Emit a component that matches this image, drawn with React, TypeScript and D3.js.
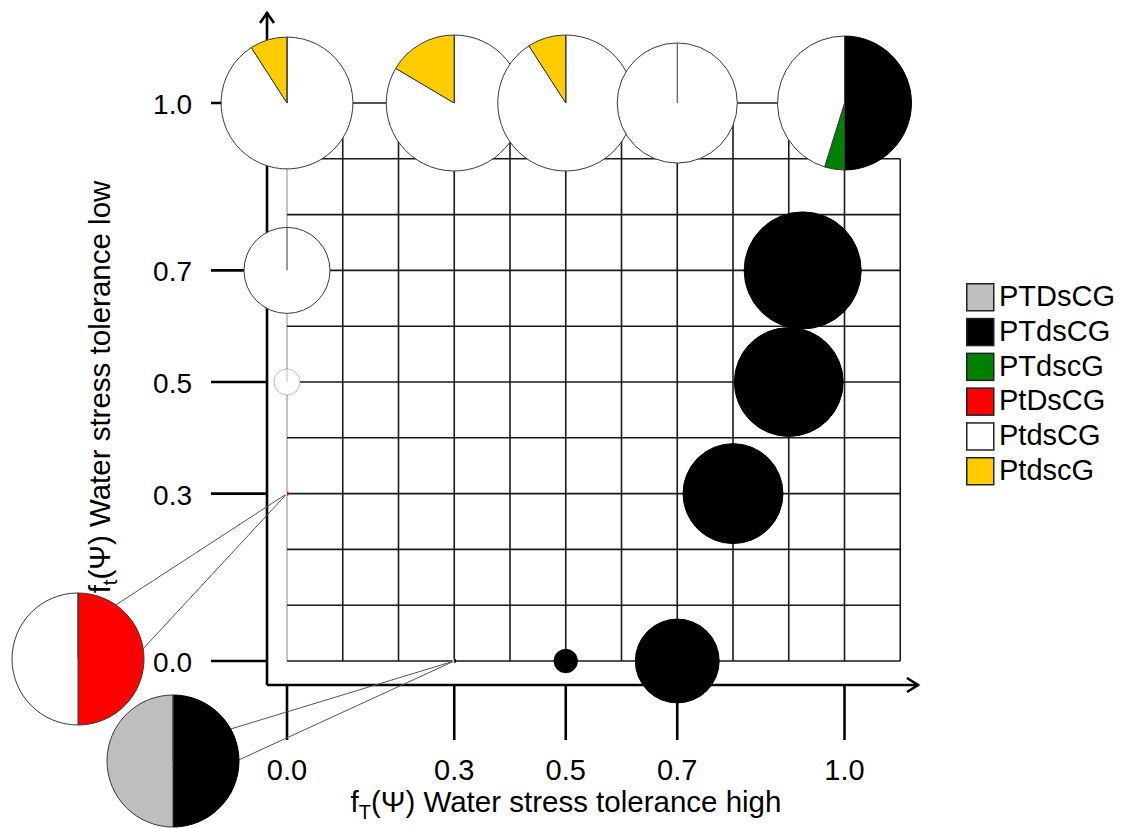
import React from "react";
import * as d3 from "d3";

// ---------- data ----------
const genotypes = ["PTDsCG", "PTdsCG", "PTdscG", "PtDsCG", "PtdsCG", "PtdscG"];
const genotypeColors = ["#bebebe", "#000000", "#008000", "#ff0000", "#ffffff", "#ffcc00"];
// clockwise order of slices starting at 12 o'clock (indices into genotypes)
const sliceOrder = [1, 2, 3, 4, 0, 5];

const xTicks = [0.0, 0.3, 0.5, 0.7, 1.0];
const yTicks = [0.0, 0.3, 0.5, 0.7, 1.0];
const tickLabels = ["0.0", "0.3", "0.5", "0.7", "1.0"];

// f_T(Psi) and f_t(Psi) of each simulated site
const siteX = [0.0, 0.3, 0.5, 0.7, 1.0, 0.0, 0.0, 0.0, 0.3, 0.5, 0.7, 0.8, 0.9, 0.925];
const siteY = [1.0, 1.0, 1.0, 1.0, 1.0, 0.7, 0.5, 0.3, 0.0, 0.0, 0.0, 0.3, 0.5, 0.7];
// relative abundance (pie area)
const siteAbundance = [0.94, 1.0, 1.0, 0.78, 0.97, 0.4, 0.037, 0.001, 0.001, 0.031, 0.38, 0.54, 0.64, 0.74];
// genotype shares per site
const sharePTDsCG = [0, 0, 0, 0, 0, 0, 0, 0, 0.5, 0, 0, 0, 0, 0];
const sharePTdsCG = [0, 0, 0, 0, 0.5, 0, 0, 0, 0.5, 1, 1, 1, 1, 1];
const sharePTdscG = [0, 0, 0, 0, 0.048, 0, 0, 0, 0, 0, 0, 0, 0, 0];
const sharePtDsCG = [0, 0, 0, 0, 0, 0, 0, 0.5, 0, 0, 0, 0, 0, 0];
const sharePtdsCG = [0.909, 0.835, 0.909, 1, 0.452, 1, 1, 0.5, 0, 0, 0, 0, 0, 0];
const sharePtdscG = [0.091, 0.165, 0.091, 0, 0, 0, 0, 0, 0, 0, 0, 0, 0, 0];
const shares = [sharePTDsCG, sharePTdsCG, sharePTdscG, sharePtDsCG, sharePtdsCG, sharePtdscG];

// magnified insets (site indices)
const insetSites = [7, 8];

export default function App() {
  const W = 1121;
  const H = 828;
  const x = d3.scaleLinear().domain([0, 1]).range([287, 844.5]);
  const y = d3.scaleLinear().domain([0, 1]).range([661, 103]);
  const rScale = d3.scaleSqrt().domain([0, 1]).range([0, 68]);
  const pie = d3.pie<number>().sort(null).value((d) => d);

  const frameX = x(0) - 20;
  const frameY = y(0) + 24;
  const arrowTopY = 12;
  const arrowRightX = 919;

  const grid = d3.range(0, 12).map((i) => i / 10);

  const font = "'Liberation Sans', Arial, Helvetica, sans-serif";

  const sharesOf = (i: number) => sliceOrder.map((g) => shares[g][i]);

  const drawPie = (i: number, cx: number, cy: number, R: number, key: string, sw: number, stroke: string) => {
    const vals = sharesOf(i);
    const arcs = pie(vals);
    const arc = d3.arc<d3.PieArcDatum<number>>().innerRadius(0).outerRadius(R);
    const allBlack = vals.every((v, k) => v === 0 || genotypeColors[sliceOrder[k]] === "#000000");
    return (
      <g key={key} transform={`translate(${cx},${cy})`}>
        {arcs.map((a, k) => {
          if (!(a.value > 0)) return null;
          const col = genotypeColors[sliceOrder[k]];
          return (
            <path
              key={k}
              d={arc(a) || ""}
              fill={col}
              stroke={col === "#000000" ? "#000" : stroke}
              strokeWidth={sw}
            />
          );
        })}
        {!allBlack && <line x1={0} y1={0} x2={0} y2={-R} stroke={stroke} strokeWidth={sw} />}
      </g>
    );
  };

  // inset layout
  const insetR = 66;
  const insetCenters = [
    [x(0) - 209, y(0) - 2],
    [x(0) - 114, y(0) + 100],
  ];
  const insetAngles = [
    [-55, -9],
    [-29, -1],
  ];

  const legendX = 966;
  const legendY = 283;
  const legendStep = 34.8;

  return (
    <svg
      width={W}
      height={H}
      style={{ position: "absolute", left: 0, top: 0, background: "#fff" }}
      fontFamily={font}
    >
      <rect x={0} y={0} width={W} height={H} fill="#fff" />
      {/* grid */}
      <g>
        {grid.map((v, i) => (
          <line
            key={"v" + i}
            x1={x(v)}
            x2={x(v)}
            y1={y(0)}
            y2={v > 1.05 ? y(0.9) : y(1)}
            stroke={i === 0 ? "#8a8a8a" : "#1a1a1a"}
            strokeWidth={i === 0 ? 1 : 1.6}
          />
        ))}
        {grid.slice(0, 11).map((v, i) => (
          <line
            key={"h" + i}
            x1={x(0)}
            x2={v > 0.95 ? x(1) : x(1.1)}
            y1={y(v)}
            y2={y(v)}
            stroke="#1a1a1a"
            strokeWidth={1.6}
          />
        ))}
      </g>
      {/* axes frame */}
      <g stroke="#000" strokeWidth={2.6} fill="none">
        <line x1={frameX} y1={frameY} x2={frameX} y2={arrowTopY} />
        <line x1={frameX} y1={frameY} x2={arrowRightX} y2={frameY} />
        <polyline points={`${frameX - 7},${arrowTopY + 11} ${frameX},${arrowTopY + 1} ${frameX + 7},${arrowTopY + 11}`} />
        <polyline points={`${arrowRightX - 12},${frameY - 7} ${arrowRightX - 1},${frameY} ${arrowRightX - 12},${frameY + 7}`} />
        {yTicks.map((t, i) => (
          <line key={"yt" + i} x1={211} x2={frameX} y1={y(t)} y2={y(t)} />
        ))}
        {xTicks.map((t, i) => (
          <line key={"xt" + i} x1={x(t)} x2={x(t)} y1={frameY} y2={740} />
        ))}
      </g>
      {/* tick labels */}
      <g fontSize={28} fill="#000">
        {yTicks.map((t, i) => (
          <text key={"yl" + i} x={192} y={y(t) + 11} textAnchor="end">
            {tickLabels[i]}
          </text>
        ))}
      </g>
      <g fontSize={29} fill="#000">
        {xTicks.map((t, i) => (
          <text key={"xl" + i} x={x(t)} y={780} textAnchor="middle">
            {tickLabels[i]}
          </text>
        ))}
      </g>
      {/* axis titles */}
      <text x={566} y={812} textAnchor="middle" fontSize={29.5} fill="#000">
        f<tspan fontSize={20} dy={7}>T</tspan>
        <tspan dy={-7}>(Ψ) Water stress tolerance high</tspan>
      </text>
      <text
        transform={`translate(110,387) rotate(-90)`}
        textAnchor="middle"
        fontSize={29.5}
        fill="#000"
      >
        f<tspan fontSize={20} dy={7}>t</tspan>
        <tspan dy={-7}>(Ψ) Water stress tolerance low</tspan>
      </text>
      {/* connector lines to insets */}
      <g stroke="#555" strokeWidth={1}>
        {insetSites.map((s, k) =>
          insetAngles[k].map((deg, j) => {
            const a = (deg * Math.PI) / 180;
            return (
              <line
                key={`c${k}${j}`}
                x1={x(siteX[s])}
                y1={y(siteY[s])}
                x2={insetCenters[k][0] + insetR * Math.cos(a)}
                y2={insetCenters[k][1] + insetR * Math.sin(a)}
              />
            );
          })
        )}
      </g>
      {/* pies */}
      {siteX.map((sx, i) => {
        const R = rScale(siteAbundance[i]);
        return drawPie(i, x(sx), y(siteY[i]), R, "p" + i, Math.min(1, R / 40), "#3a3a3a");
      })}
      {/* magnified insets */}
      {insetSites.map((s, k) => drawPie(s, insetCenters[k][0], insetCenters[k][1], insetR, "in" + k, 1, "#3a3a3a"))}
      {/* legend */}
      <g>
        {genotypes.map((g, i) => (
          <g key={g} transform={`translate(${legendX},${legendY + i * legendStep})`}>
            <rect x={0.75} y={0.75} width={27} height={27} fill={genotypeColors[i]} stroke="#222" strokeWidth={1.5} />
            <text x={33} y={23} fontSize={29} fill="#000">
              {g}
            </text>
          </g>
        ))}
      </g>
    </svg>
  );
}
